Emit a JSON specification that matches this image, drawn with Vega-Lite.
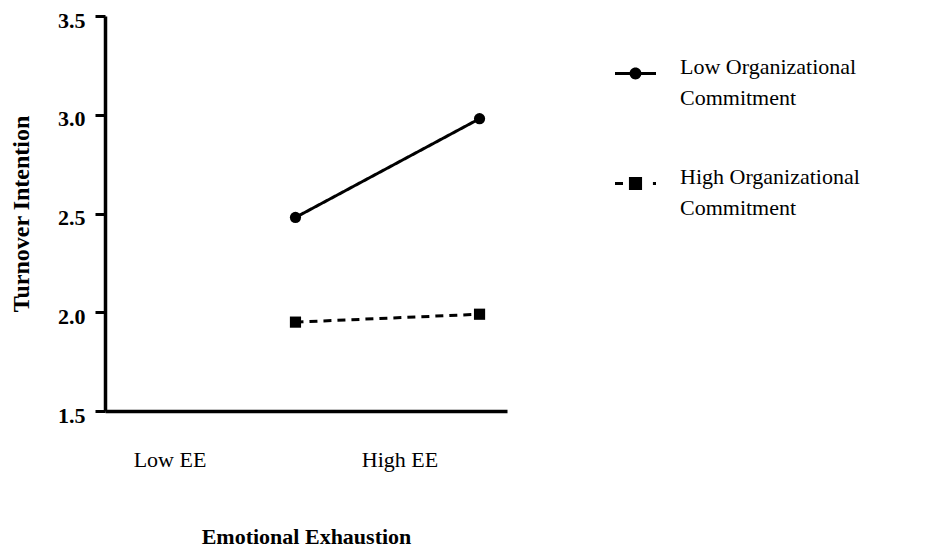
{
  "$schema": "https://vega.github.io/schema/vega-lite/v6.json",
  "width": 402,
  "height": 395,
  "autosize": {"type": "none"},
  "padding": {"left": 105, "top": 16, "right": 445, "bottom": 142},
  "background": "white",
  "config": {"view": {"stroke": null}, "style": {"guide-label": {"lineHeight": 31}}},
  "data": {
    "values": [
      {"ee": "Low EE", "group": "Low Organizational Commitment", "ti": 2.48},
      {"ee": "High EE", "group": "Low Organizational Commitment", "ti": 2.98},
      {"ee": "Low EE", "group": "High Organizational Commitment", "ti": 1.95},
      {"ee": "High EE", "group": "High Organizational Commitment", "ti": 1.99}
    ]
  },
  "encoding": {
    "x": {
      "field": "ee",
      "type": "ordinal",
      "scale": {"type": "point", "domain": ["Low EE", "High EE"], "padding": 0.592, "align": 0.874},
      "axis": {
        "title": "Emotional Exhaustion",
        "labelAngle": 0,
        "ticks": false,
        "domainColor": "black",
        "domainWidth": 3.5,
        "labelFont": "Liberation Serif",
        "labelFontSize": 22,
        "labelColor": "black",
        "labelPadding": 38,
        "labelOffset": {"condition": {"test": "datum.value == 'Low EE'", "value": -126}, "value": -80},
        "titleFont": "Liberation Serif",
        "titleFontWeight": "bold",
        "titleFontSize": 22,
        "titleColor": "black",
        "titlePadding": 56,
        "grid": false
      }
    },
    "y": {
      "field": "ti",
      "type": "quantitative",
      "scale": {"domain": [1.5, 3.5], "nice": false, "zero": false},
      "axis": {
        "title": "Turnover Intention",
        "values": [1.5, 2, 2.5, 3, 3.5],
        "format": ".1f",
        "grid": false,
        "domainColor": "black",
        "domainWidth": 3.5,
        "tickColor": "black",
        "tickSize": 10,
        "tickWidth": 3,
        "labelFont": "Liberation Serif",
        "labelFontWeight": "bold",
        "labelFontSize": 22,
        "labelColor": "black",
        "labelPadding": 10,
        "labelOffset": 4,
        "titleFont": "Liberation Serif",
        "titleFontWeight": "bold",
        "titleFontSize": 24,
        "titleColor": "black",
        "titlePadding": 24
      }
    }
  },
  "resolve": {"scale": {"shape": "independent"}},
  "layer": [
    {
      "mark": {"type": "line", "color": "black", "strokeWidth": 3},
      "encoding": {
        "detail": {"field": "group", "type": "nominal"},
        "strokeDash": {
          "condition": {"test": "datum.group == 'High Organizational Commitment'", "value": [8, 6]},
          "value": [1, 0]
        }
      }
    },
    {
      "mark": {"type": "point", "filled": true, "color": "black", "size": 125, "opacity": 1},
      "encoding": {
        "shape": {
          "field": "group",
          "type": "nominal",
          "scale": {"domain": ["Low Organizational Commitment", "High Organizational Commitment"], "range": ["circle", "square"]},
          "legend": null
        }
      }
    },
    {
      "data": {"values": []},
      "mark": {"type": "point", "filled": true, "color": "black", "opacity": 1},
      "encoding": {
        "shape": {
          "field": "group",
          "type": "nominal",
          "scale": {
            "domain": ["Low Organizational Commitment", "High Organizational Commitment"],
            "range": [
              "M-1,-0.075H-0.26V0.075H-1Z M0.26,-0.075H1V0.075H0.26Z M0.29,0A0.29,0.29 0 1,1 -0.29,0A0.29,0.29 0 1,1 0.29,0Z",
              "M-1,-0.075H-0.61V0.075H-1Z M-0.32,-0.32H0.32V0.32H-0.32Z M0.85,-0.075H1V0.075H0.85Z"
            ]
          },
          "legend": {
            "orient": "none",
            "legendX": 510,
            "legendY": 37,
            "title": null,
            "padding": 0,
            "symbolSize": 1681,
            "symbolFillColor": "black",
            "symbolStrokeWidth": 0,
            "labelFont": "Liberation Serif",
            "labelFontSize": 22,
            "labelColor": "black",
            "labelLimit": 400,
            "labelOffset": 24,
            "labelBaseline": "alphabetic",
            "rowPadding": 54,
            "labelExpr": "datum.label == 'Low Organizational Commitment' ? ['Low Organizational', 'Commitment'] : ['High Organizational', 'Commitment']"
          }
        }
      }
    }
  ]
}
